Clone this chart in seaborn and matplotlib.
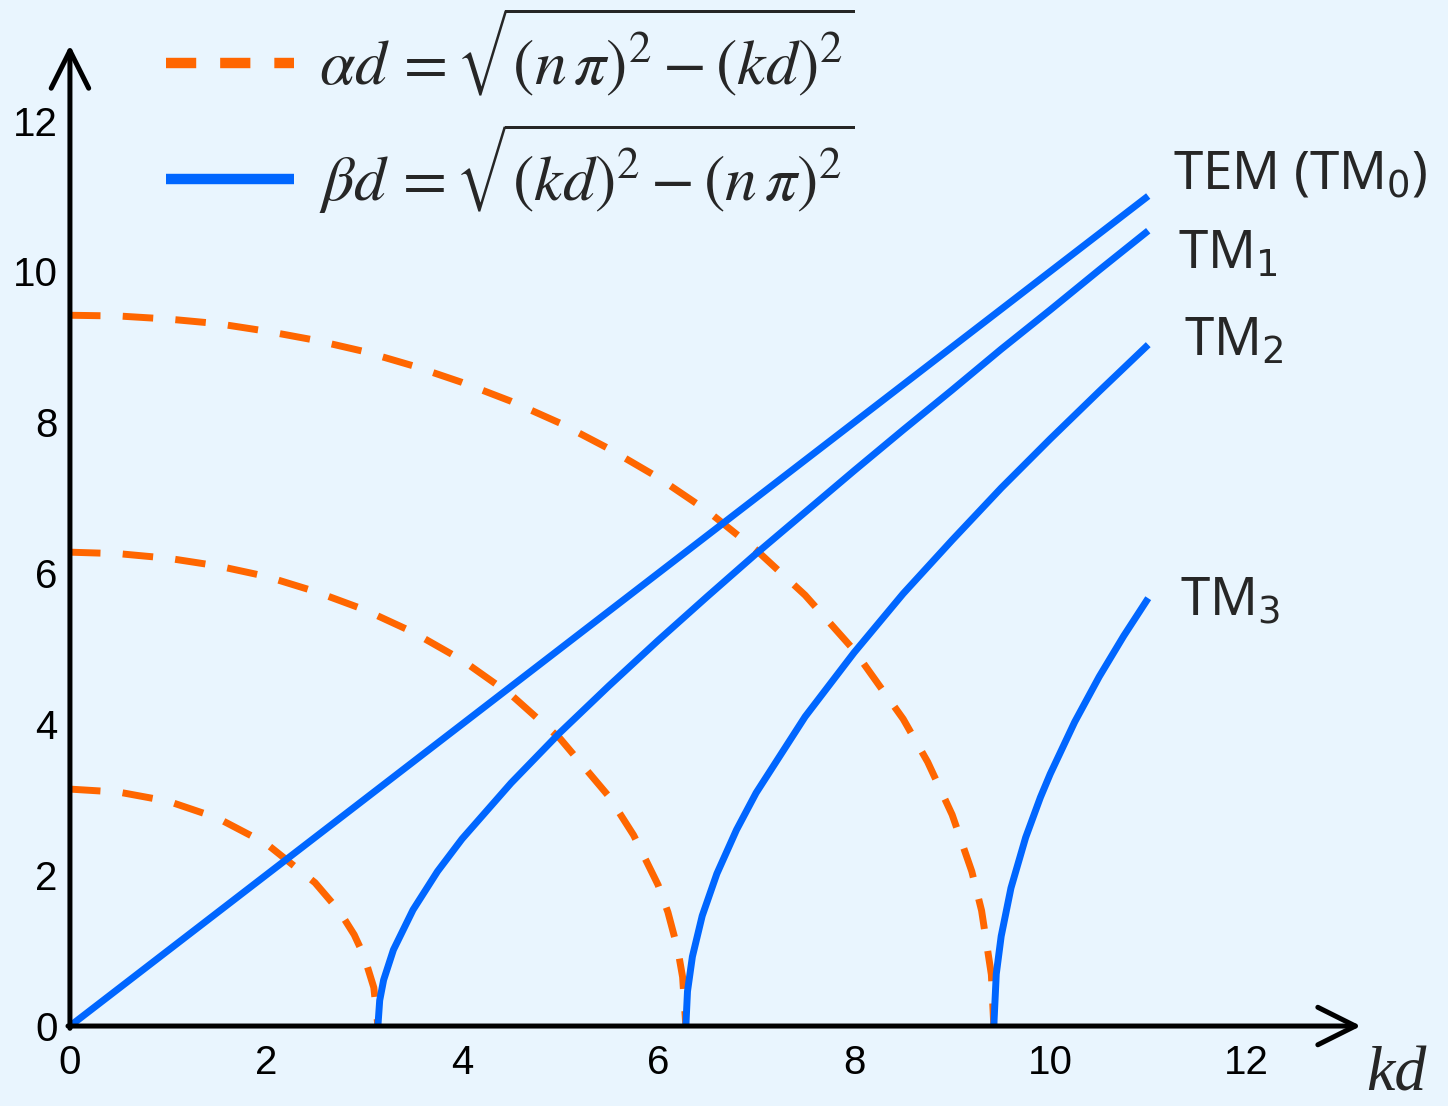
import numpy as np
import pandas as pd
import matplotlib
matplotlib.use("Agg")
import matplotlib.pyplot as plt
from matplotlib.lines import Line2D
import seaborn as sns

# ---- data: propagation (beta d) and attenuation (alpha d) vs kd ----
kd_tem = [0.0, 1.0, 2.0, 3.0, 4.0, 5.0, 6.0, 7.0, 8.0, 9.0, 10.0, 11.0]
bd_tem = [0.0, 1.0, 2.0, 3.0, 4.0, 5.0, 6.0, 7.0, 8.0, 9.0, 10.0, 11.0]

kd_tm1 = [3.1416, 3.16, 3.2, 3.3, 3.5, 3.75, 4.0, 4.5, 5.0, 5.5, 6.0, 6.5,
          7.0, 7.5, 8.0, 8.5, 9.0, 9.5, 10.0, 10.5, 11.0]
bd_tm1 = [0.0, 0.34, 0.61, 1.01, 1.54, 2.05, 2.48, 3.22, 3.89, 4.51, 5.11, 5.69,
          6.26, 6.81, 7.36, 7.90, 8.43, 8.97, 9.49, 10.02, 10.54]

kd_tm2 = [6.2832, 6.30, 6.35, 6.45, 6.6, 6.8, 7.0, 7.5, 8.0, 8.5, 9.0, 9.5,
          10.0, 10.5, 11.0]
bd_tm2 = [0.0, 0.46, 0.92, 1.46, 2.02, 2.60, 3.09, 4.10, 4.95, 5.73, 6.44, 7.13,
          7.78, 8.41, 9.03]

kd_tm3 = [9.4248, 9.45, 9.5, 9.6, 9.75, 9.9, 10.0, 10.25, 10.5, 10.75, 11.0]
bd_tm3 = [0.0, 0.69, 1.19, 1.83, 2.50, 3.03, 3.34, 4.03, 4.63, 5.17, 5.67]

kd_a1 = [0.0, 0.5, 1.0, 1.5, 2.0, 2.5, 2.75, 2.9, 3.0, 3.1, 3.1416]
ad_a1 = [3.14, 3.10, 2.98, 2.76, 2.42, 1.90, 1.52, 1.21, 0.93, 0.51, 0.0]

kd_a2 = [0.0, 0.5, 1.0, 1.5, 2.0, 2.5, 3.0, 3.5, 4.0, 4.5, 5.0, 5.5, 5.75,
         6.0, 6.1, 6.2, 6.25, 6.2832]
ad_a2 = [6.28, 6.26, 6.20, 6.10, 5.96, 5.76, 5.52, 5.22, 4.85, 4.39, 3.81, 3.04, 2.53,
         1.87, 1.51, 1.02, 0.65, 0.0]

kd_a3 = [0.0, 0.5, 1.0, 1.5, 2.0, 2.5, 3.0, 3.5, 4.0, 4.5, 5.0, 5.5, 6.0, 6.5,
         7.0, 7.5, 8.0, 8.5, 8.75, 9.0, 9.2, 9.3, 9.4, 9.4248]
ad_a3 = [9.42, 9.41, 9.37, 9.31, 9.21, 9.09, 8.94, 8.75, 8.53, 8.28, 7.99, 7.65, 7.27, 6.83,
         6.31, 5.71, 4.98, 4.07, 3.50, 2.80, 2.05, 1.53, 0.68, 0.0]

mode_labels = ["TEM (TM$_0$)", "TM$_1$", "TM$_2$", "TM$_3$"]
label_pos = [(11.25, 11.26), (11.30, 10.22), (11.36, 9.07), (11.32, 5.62)]

tick_vals = [0, 2, 4, 6, 8, 10, 12]
legend_labels = [
    r"$\alpha d\, =\sqrt{\left(n\,\pi\right)^{2}-\left(kd\right)^{2}}$",
    r"$\beta d\, =\sqrt{\left(kd\right)^{2}-\left(n\,\pi\right)^{2}}$",
]

# ---- style ----
bg = "#E9F5FE"
orange = "#FF6600"
blue = "#0066FF"
sns.set_style("white", {"axes.facecolor": bg, "figure.facecolor": bg})
plt.rcParams["font.family"] = ["Liberation Sans", "DejaVu Sans"]
plt.rcParams["mathtext.fontset"] = "stix"

fig = plt.figure(figsize=(14.48, 11.06), dpi=100)
fig.patch.set_facecolor(bg)
ax = fig.add_axes([0.0483, 0.0723, 0.8936, 0.8869])
ax.set_facecolor(bg)

lw = 5.0
dash = (4.4, 3.2)

alpha_sets = [(kd_a1, ad_a1), (kd_a2, ad_a2), (kd_a3, ad_a3)]
beta_sets = [(kd_tem, bd_tem), (kd_tm1, bd_tm1), (kd_tm2, bd_tm2), (kd_tm3, bd_tm3)]

for x, y in alpha_sets:
    df = pd.DataFrame({"kd": x, "val": y})
    sns.lineplot(data=df, x="kd", y="val", ax=ax, color=orange, lw=lw,
                 sort=False, estimator=None, clip_on=False)
    ax.lines[-1].set_dashes(dash)
    ax.lines[-1].set_dash_capstyle("butt")

for x, y in beta_sets:
    df = pd.DataFrame({"kd": x, "val": y})
    sns.lineplot(data=df, x="kd", y="val", ax=ax, color=blue, lw=lw,
                 sort=False, estimator=None, clip_on=False)
    ax.lines[-1].set_solid_capstyle("butt")

ax.set_xlim(0, 13.2)
ax.set_ylim(0, 13.0)
for s in ax.spines.values():
    s.set_visible(False)

# axes with open arrow heads
arrow_kw = dict(arrowstyle="->,head_length=0.9,head_width=0.45", lw=3.6,
                color="black", mutation_scale=30, shrinkA=0, shrinkB=0)
ax.annotate("", xy=(13.17, 0), xytext=(-0.02, 0), arrowprops=arrow_kw,
            annotation_clip=False, zorder=5)
ax.annotate("", xy=(0, 13.0), xytext=(0, -0.03), arrowprops=arrow_kw,
            annotation_clip=False, zorder=5)

ax.set_xticks(tick_vals)
ax.set_yticks(tick_vals)
ax.set_xticklabels([str(t) for t in tick_vals])
ax.set_yticklabels([str(t) for t in tick_vals])
ax.tick_params(axis="both", direction="in", length=7, width=3.2, color="black",
               labelsize=29, labelcolor="black")
ax.tick_params(axis="x", pad=13)
ax.tick_params(axis="y", pad=9)
ax.xaxis.get_major_ticks()[0].tick1line.set_visible(False)
ax.yaxis.get_major_ticks()[0].tick1line.set_visible(False)
ax.set_xlabel("")
ax.set_ylabel("")

ax.text(13.53, -0.66, "kd", fontsize=46, fontstyle="italic",
        family="Liberation Serif", ha="center", va="center", clip_on=False)

for lab, (x, y) in zip(mode_labels, label_pos):
    ax.text(x, y, lab, fontsize=38, family="Noto Sans", math_fontfamily="dejavusans",
            ha="left", va="center", clip_on=False)

handles = [
    Line2D([], [], color=orange, lw=7.5, dashes=(2.9, 2.3), dash_capstyle="butt"),
    Line2D([], [], color=blue, lw=7.5, solid_capstyle="butt"),
]
leg = ax.legend(handles, legend_labels, loc="upper left",
                bbox_to_anchor=(166 / 1448, 1 - 6 / 1106),
                bbox_transform=fig.transFigure, frameon=False, fontsize=46,
                handlelength=2.0, handletextpad=0.4, labelspacing=0.35,
                borderpad=0, borderaxespad=0)

fig.savefig("out.png", dpi=100, facecolor=bg)
